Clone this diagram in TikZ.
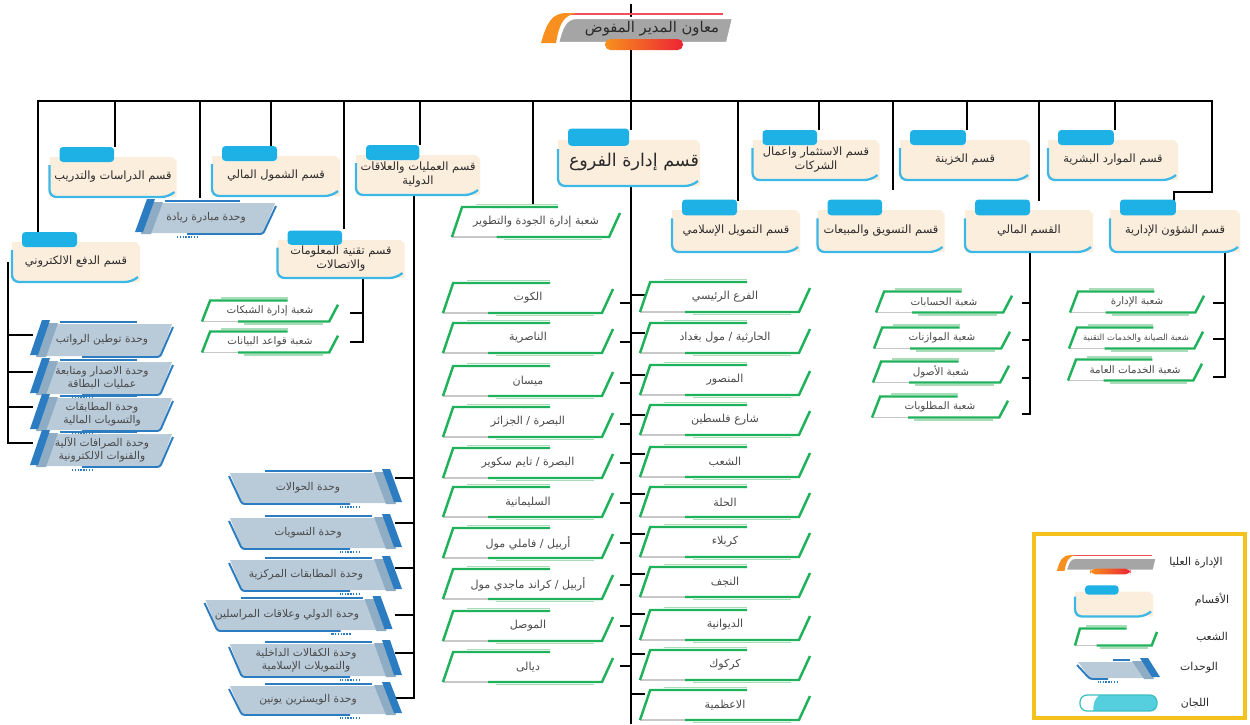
\documentclass[tikz,border=0pt]{standalone}
\usepackage{fontspec}
\setmainfont{DejaVu Sans}
\newfontfamily\arabicfont[Script=Arabic]{DejaVu Sans}
\TeXXeTstate=1
\newcommand{\ar}[1]{{\arabicfont\beginR #1\endR}}
\definecolor{deptcream}{HTML}{FCEEDD}
\definecolor{deptedge}{HTML}{3DB8E6}
\definecolor{tabblue}{HTML}{1DB1E6}
\definecolor{brgreen}{HTML}{1FB25A}
\definecolor{brlight}{HTML}{A9DDB8}
\definecolor{brgray}{HTML}{C8C8C8}
\definecolor{unitbody}{HTML}{B9CAD9}
\definecolor{unitmid}{HTML}{8EACC4}
\definecolor{unitdark}{HTML}{2B7CC1}
\definecolor{mgmtgray}{HTML}{A5A5A5}
\definecolor{mgmtorange}{HTML}{F7901E}
\definecolor{mgmtred}{HTML}{EC2434}
\definecolor{legendgold}{HTML}{F4C21C}
\definecolor{pillcyan}{HTML}{55CFDD}
\definecolor{pilledge}{HTML}{3BBFC0}
\definecolor{txt}{HTML}{2A2A2A}

% ---------- shapes drawn at the origin ----------
\newcommand{\deptshape}[2]{%
  \pgfmathsetmacro\pHW{#1/2}\pgfmathsetmacro\pHH{#2/2}\pgfmathsetmacro\pTW{0.43*#1}%
  \pgfmathsetmacro\pTT{-\pHH-0.25*#2}\pgfmathsetmacro\pTB{-\pHH+0.125*#2}%
  \fill[deptcream] ({-\pHW},{-\pHH}) -- ({\pHW-4},{-\pHH}) -- ({\pHW},{-\pHH+4}) -- ({\pHW},{\pHH}) -- ({-\pHW},{\pHH}) -- cycle;
  \draw[deptedge, line width=1.3pt, rounded corners=4pt] ({-\pHW},{-\pHH+0.2*#2}) -- ({-\pHW},{\pHH}) -- ({\pHW-8},{\pHH}) -- ({\pHW-2},{\pHH-5});
  \fill[tabblue, rounded corners=2pt] ({-\pHW+10},{\pTT}) rectangle ({-\pHW+10+\pTW},{\pTB});
}
\newcommand{\branchshape}[2]{%
  \pgfmathsetmacro\pHW{#1/2}\pgfmathsetmacro\pHH{#2/2}%
  \draw[brlight, line width=0.6pt] ({-0.72*\pHW},{-\pHH-2.5}) -- ({0.26*\pHW},{-\pHH-2.5});
  \draw[brlight, line width=0.6pt] ({-0.38*\pHW},{\pHH+2.5}) -- ({0.78*\pHW},{\pHH+2.5});
  \draw[brgray, line width=0.6pt] ({-\pHW},{\pHH}) -- ({-0.45*\pHW},{\pHH});
  \draw[brgreen, line width=1.4pt] ({-0.47*\pHW},{\pHH}) -- ({0.87*\pHW},{\pHH}) -- ({\pHW},{-0.6*\pHH});
  \draw[brgreen, line width=1.4pt] ({-\pHW},{\pHH}) -- ({-0.88*\pHW},{-\pHH}) -- ({0.26*\pHW},{-\pHH});
}
\newcommand{\unitshape}[2]{%
  \pgfmathsetmacro\pHW{#1/2}\pgfmathsetmacro\pHH{#2/2}%
  \fill[unitbody] ({-\pHW+14},{-\pHH}) -- ({\pHW},{-\pHH}) -- ({\pHW-12},{\pHH}) -- ({-\pHW+4},{\pHH}) -- cycle;
  \fill[unitmid] ({-\pHW+16},{-\pHH-1}) -- ({-\pHW+26},{-\pHH-1}) -- ({-\pHW+14},{\pHH+1}) -- ({-\pHW+4},{\pHH+1}) -- cycle;
  \fill[unitdark] ({-\pHW+10},{-\pHH-4}) -- ({-\pHW+18},{-\pHH-4}) -- ({-\pHW+6},{\pHH-1}) -- ({-\pHW-2},{\pHH-1}) -- cycle;
  \draw[unitdark, line width=1.1pt] ({-\pHW+28},{-\pHH-2}) -- ({\pHW-35},{-\pHH-2});
  \draw[unitdark, line width=1.1pt, rounded corners=1.5pt] ({-\pHW+50},{\pHH+1}) -- ({\pHW-12},{\pHH+1}) -- ({\pHW+1},{-\pHH+3});
  \draw[unitdark, line width=0.9pt, dash pattern=on 0.8pt off 0.8pt] ({-\pHW+40},{\pHH+4}) -- ({-\pHW+60},{\pHH+4});
}
\newcommand{\mgmtshape}{%
  \draw[mgmtred!80, line width=0.7pt] (-80,-16) -- (76,-16);
  \fill[mgmtorange] (-106,13) .. controls (-100,-8) and (-95,-17) .. (-80,-17) -- (-70,-17) .. controls (-84,-15) and (-88,-5) .. (-91,13) -- cycle;
  \filldraw[fill=mgmtgray, draw=white, line width=1.2pt] (-89,13) .. controls (-85,-2) and (-82,-12) .. (-70,-12) -- (86,-12) -- (80,13) -- cycle;
  \shade[left color=mgmtorange, right color=mgmtred, rounded corners=3pt] (-42,20) -- (-42,9) -- (36,9) -- (36,20) -- cycle;
}
% ---------- placement macros ----------
\newcommand{\dept}[6]{\begin{scope}[shift={(#2,#3)}]\deptshape{#4}{#5}\end{scope}\node[depttext] (#1) at (#2,#3) {#6};}
\newcommand{\branch}[7]{\begin{scope}[shift={(#2,#3)}]\branchshape{#4}{#5}\end{scope}\node[#6] (#1) at (#2,#3) {#7};}
\newcommand{\unitL}[6]{\begin{scope}[shift={(#2,#3)}]\unitshape{#4}{#5}\end{scope}\node[unittext] (#1) at (#2,#3) {#6};}
\newcommand{\unitR}[7]{\begin{scope}[shift={(#2,#3)},xscale=-1]\unitshape{#4}{#5}\end{scope}\node[unittext] (#1) at (#6,#3) {#7};}

\begin{document}
\begin{tikzpicture}[x=0.02cm,y=-0.02cm,
  conn/.style={line width=1.1pt, black},
  depttext/.style={font=\fontsize{6.5pt}{8pt}\selectfont, text=txt, align=center, inner sep=0pt},
  bigtext/.style={font=\fontsize{10pt}{12pt}\selectfont, text=txt, align=center, inner sep=0pt},
  brtext/.style={font=\fontsize{6.3pt}{7.5pt}\selectfont, text=txt!85, align=center, inner sep=0pt},
  brsmall/.style={font=\fontsize{5.9pt}{7pt}\selectfont, text=txt!85, align=center, inner sep=0pt},
  brtiny/.style={font=\fontsize{4.8pt}{6pt}\selectfont, text=txt!85, align=center, inner sep=0pt},
  unittext/.style={font=\fontsize{6.1pt}{7.3pt}\selectfont, text=txt!85, align=center, inner sep=0pt},
  mgmttext/.style={font=\fontsize{8.4pt}{10pt}\selectfont, text=txt, inner sep=0pt},
  legtext/.style={font=\fontsize{6.2pt}{7.5pt}\selectfont, text=txt, inner sep=0pt}]
\useasboundingbox (0,0) rectangle (1250,724);
\fill[white] (0,0) rectangle (1250,724);

% ---------- connectors ----------
\draw[conn] (631,4) -- (631,130);
\draw[conn] (38,232) -- (38,101) -- (1212,101) -- (1212,192) -- (1174,192) -- (1174,201);
\foreach \xx/\yy in {115/147, 200/198, 271/146, 344/229, 420/145, 533/205, 738/201, 819/130, 893/190, 967/130, 1039/201, 1115/130}
  \draw[conn] (\xx,101) -- (\xx,\yy);
% electronic payment
\draw[conn] (8,262) -- (8,443) -- (33,443);
\foreach \yy in {335,372,407} \draw[conn] (8,\yy) -- (33,\yy);
% IT
\draw[conn] (363,278) -- (363,342) -- (350,342);
\draw[conn] (363,313) -- (350,313);
% operations
\draw[conn] (414,195) -- (414,698) -- (395,698);
\foreach \yy in {478,523,568,615,653} \draw[conn] (414,\yy) -- (395,\yy);
% branches management
\draw[conn] (631,186) -- (631,724);
\foreach \yy in {303,342,383,424,463,503,543,585,626,666} \draw[conn] (620,\yy) -- (631,\yy);
\foreach \yy in {295,333,375,415,454,494,534,574,614,654,694} \draw[conn] (631,\yy) -- (645,\yy);
% finance
\draw[conn] (1030,252) -- (1030,414) -- (1022,414);
\foreach \yy in {303,340,378} \draw[conn] (1030,\yy) -- (1022,\yy);
% admin affairs
\draw[conn] (1225,252) -- (1225,377) -- (1213,377);
\foreach \yy in {303,339} \draw[conn] (1225,\yy) -- (1213,\yy);

% ---------- top management ----------
\begin{scope}[shift={(647,30)}]\mgmtshape\end{scope}
\node[mgmttext] (mgmt) at (652,29) {\ar{معاون المدير المفوض}};

% ---------- departments ----------
\dept{studies}{113}{177}{127}{40}{\ar{قسم الدراسات والتدريب}}
\dept{inclusion}{276}{176}{128}{40}{\ar{قسم الشمول المالي}}
\dept{ops}{418}{175}{124}{40}{\ar{قسم العمليات والعلاقات}\\\ar{الدولية}}
\dept{it}{341}{259}{127}{38}{\ar{قسم تقنية المعلومات}\\\ar{والاتصالات}}
\dept{epay}{76}{262}{128}{40}{\ar{قسم الدفع الالكتروني}}
\begin{scope}[shift={(629,163)}]\deptshape{142}{46}\end{scope}
\node[bigtext] (branches) at (634,162) {\ar{قسم إدارة الفروع}};
\dept{islamic}{736}{231}{128}{42}{\ar{قسم التمويل الإسلامي}}
\dept{invest}{816}{160}{127}{40}{\ar{قسم الاستثمار واعمال}\\\ar{الشركات}}
\dept{treasury}{965}{160}{130}{40}{\ar{قسم الخزينة}}
\dept{hr}{1113}{160}{130}{40}{\ar{قسم الموارد البشرية}}
\dept{marketing}{881}{231}{127}{42}{\ar{قسم التسويق والمبيعات}}
\dept{finance}{1029}{231}{128}{42}{\ar{القسم المالي}}
\dept{admin}{1175}{231}{130}{42}{\ar{قسم الشؤون الإدارية}}

% ---------- branches (شعب) ----------
\branch{quality}{536}{222}{168}{30}{brtext}{\ar{شعبة إدارة الجودة والتطوير}}
\branch{net}{270}{311}{136}{21}{brsmall}{\ar{شعبة إدارة الشبكات}}
\branch{db}{270}{342}{136}{21}{brsmall}{\ar{شعبة قواعد البيانات}}
\branch{acc}{944}{302}{136}{21}{brsmall}{\ar{شعبة الحسابات}}
\branch{budget}{942}{338}{136}{21}{brsmall}{\ar{شعبة الموازنات}}
\branch{assets}{941}{372}{136}{21}{brsmall}{\ar{شعبة الأصول}}
\branch{liab}{940}{407}{136}{21}{brsmall}{\ar{شعبة المطلوبات}}
\branch{adm1}{1137}{302}{134}{21}{brsmall}{\ar{شعبة الإدارة}}
\branch{adm2}{1136}{338}{134}{21}{brtiny}{\ar{شعبة الصيانة والخدمات التقنية}}
\branch{adm3}{1135}{370}{134}{21}{brsmall}{\ar{شعبة الخدمات العامة}}
% left column
\branch{b1}{528}{298}{170}{30}{brtext}{\ar{الكوت}}
\branch{b2}{528}{338}{170}{30}{brtext}{\ar{الناصرية}}
\branch{b3}{528}{381}{170}{30}{brtext}{\ar{ميسان}}
\branch{b4}{528}{422}{170}{30}{brtext}{\ar{البصرة / الجزائر}}
\branch{b5}{528}{463}{170}{30}{brtext}{\ar{البصرة / تايم سكوير}}
\branch{b6}{528}{502}{170}{30}{brtext}{\ar{السليمانية}}
\branch{b7}{528}{543}{170}{30}{brtext}{\ar{أربيل / فاملي مول}}
\branch{b8}{528}{584}{170}{30}{brtext}{\ar{أربيل / كراند ماجدي مول}}
\branch{b9}{528}{626}{170}{30}{brtext}{\ar{الموصل}}
\branch{b10}{528}{667}{170}{30}{brtext}{\ar{ديالى}}
% right column
\branch{r1}{725}{297}{170}{30}{brtext}{\ar{الفرع الرئيسي}}
\branch{r2}{725}{338}{170}{30}{brtext}{\ar{الحارثية / مول بغداد}}
\branch{r3}{725}{380}{170}{30}{brtext}{\ar{المنصور}}
\branch{r4}{725}{420}{170}{30}{brtext}{\ar{شارع فلسطين}}
\branch{r5}{725}{462}{170}{30}{brtext}{\ar{الشعب}}
\branch{r6}{725}{502}{170}{30}{brtext}{\ar{الحلة}}
\branch{r7}{725}{542}{170}{30}{brtext}{\ar{كربلاء}}
\branch{r8}{725}{582}{170}{30}{brtext}{\ar{النجف}}
\branch{r9}{725}{625}{170}{30}{brtext}{\ar{الديوانية}}
\branch{r10}{725}{665}{170}{30}{brtext}{\ar{كركوك}}
\branch{r11}{725}{705}{170}{30}{brtext}{\ar{الاعظمية}}

% ---------- units (وحدات) ----------
\unitL{riyada}{206}{218}{138}{30}{\ar{وحدة مبادرة ريادة}}
\unitL{u1}{102}{340}{140}{32}{\ar{وحدة توطين الرواتب}}
\unitL{u2}{102}{378}{140}{32}{\ar{وحدة الاصدار ومتابعة}\\\ar{عمليات البطاقة}}
\unitL{u3}{102}{414}{140}{32}{\ar{وحدة المطابقات}\\\ar{والتسويات المالية}}
\unitL{u4}{102}{450}{140}{32}{\ar{وحدة الصرافات الآلية}\\\ar{والقنوات الالكترونية}}
\unitR{o1}{315}{488}{170}{30}{308}{\ar{وحدة الحوالات}}
\unitR{o2}{315}{533}{170}{30}{308}{\ar{وحدة التسويات}}
\unitR{o3}{315}{575}{170}{30}{306}{\ar{وحدة المطابقات المركزية}}
\unitR{o4}{298}{615}{185}{30}{287}{\ar{وحدة الدولي وعلاقات المراسلين}}
\unitR{o5}{315}{660}{170}{32}{306}{\ar{وحدة الكفالات الداخلية}\\\ar{والتمويلات الإسلامية}}
\unitR{o6}{315}{700}{170}{28}{308}{\ar{وحدة الويسترين يونين}}

% ---------- legend ----------
\draw[legendgold, line width=1.8pt] (1034,534) rectangle (1245,718);
\begin{scope}[shift={(1112,564)}, scale=0.52]\mgmtshape\end{scope}
\node[legtext] (l1) at (1196,563) {\ar{الإدارة العليا}};
\begin{scope}[shift={(1114,604)}]\deptshape{78}{25}\end{scope}
\node[legtext] (l2) at (1212,600) {\ar{الأقسام}};
\begin{scope}[shift={(1116,637)}]\branchshape{82}{17}\end{scope}
\node[legtext] (l3) at (1212,637) {\ar{الشعب}};
\begin{scope}[shift={(1118,670)}, xscale=-1]\unitshape{80}{16}\end{scope}
\node[legtext] (l4) at (1199,668) {\ar{الوحدات}};
\begin{scope}
  \clip[rounded corners=4pt] (1080,695) rectangle (1157,711);
  \fill[pillcyan] (1080,695) rectangle (1157,711);
  \fill[white] (1078,693) -- (1102,693) .. controls (1094,698) and (1092,705) .. (1094,713) -- (1078,713) -- cycle;
\end{scope}
\draw[pilledge, rounded corners=4pt, line width=0.7pt] (1080,695) rectangle (1157,711);
\node[legtext] (l5) at (1195,703) {\ar{اللجان}};
\end{tikzpicture}
\end{document}
